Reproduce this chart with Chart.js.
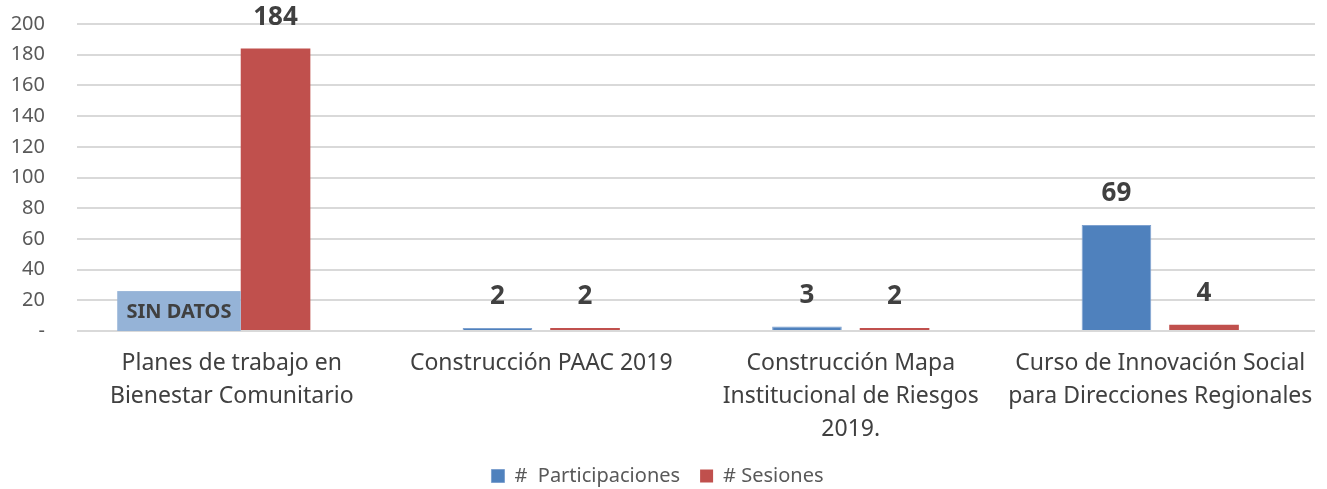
<!DOCTYPE html>
<html>
<head>
<meta charset="utf-8">
<script src="https://cdn.jsdelivr.net/npm/chart.js@4"></script>
<style>
  body { margin: 0; background: #fff; }
  #wrap { width: 1327px; height: 489px; }
</style>
</head>
<body>
<div id="wrap"><canvas id="grafico" width="1327" height="489"></canvas></div>
<script>
// datos del grafico
var categorias = [
  ['Planes de trabajo en', 'Bienestar Comunitario'],
  ['Construcción PAAC 2019'],
  ['Construcción Mapa', 'Institucional de Riesgos', '2019.'],
  ['Curso de Innovación Social', 'para Direcciones Regionales']
];
var participaciones = [null, 2, 3, 69];
var sesiones = [184, 2, 2, 4];
var sinDatosValor = 26; // caja "SIN DATOS" en la primera categoria
var sinDatosTexto = 'SIN DATOS';
var yTicks = [0, 20, 40, 60, 80, 100, 120, 140, 160, 180, 200];

var fuente = "'Noto Sans', 'Open Sans', sans-serif";

// plugin: caja SIN DATOS y etiquetas de valor
var etiquetasPlugin = {
  id: 'etiquetas',
  afterDatasetsDraw: function(chart) {
    var ctx = chart.ctx;
    var y = chart.scales.y;
    var x = chart.scales.x;

    // caja "SIN DATOS" junto a la barra roja
    var rojo = chart.getDatasetMeta(1).data[0];
    var anchoCat = x.getPixelForValue(1) - x.getPixelForValue(0);
    var derecha = rojo.x - rojo.width / 2;
    var izquierda = x.getPixelForValue(0) - anchoCat * 0.37;
    var arriba = y.getPixelForValue(sinDatosValor);
    var abajo = y.getPixelForValue(0);
    ctx.save();
    ctx.fillStyle = '#95b3d7';
    ctx.fillRect(izquierda, arriba, derecha - izquierda, abajo - arriba);
    ctx.fillStyle = '#404040';
    ctx.font = 'bold 20px ' + fuente;
    ctx.textAlign = 'center';
    ctx.textBaseline = 'middle';
    ctx.fillText(sinDatosTexto, (izquierda + derecha) / 2, abajo - 19);

    // valores encima de las barras
    ctx.font = 'bold 26px ' + fuente;
    chart.data.datasets.forEach(function(ds, i) {
      var meta = chart.getDatasetMeta(i);
      meta.data.forEach(function(bar, j) {
        var v = ds.data[j];
        if (v === null || v === undefined) return;
        ctx.fillText(String(v), bar.x, bar.y - 31);
      });
    });
    ctx.restore();
  }
};

var ctx = document.getElementById('grafico').getContext('2d');
var grafico = new Chart(ctx, {
  type: 'bar',
  data: {
    labels: categorias,
    datasets: [{
      label: '#  Participaciones',
      data: participaciones,
      backgroundColor: '#4f81bd',
      borderColor: '#7ea1cf',
      borderWidth: 1,
      categoryPercentage: 0.566,
      barPercentage: 0.795
    }, {
      label: '# Sesiones',
      data: sesiones,
      backgroundColor: '#c0504d',
      borderWidth: 0,
      categoryPercentage: 0.566,
      barPercentage: 0.795
    }]
  },
  options: {
    responsive: false,
    animation: false,
    layout: { padding: { top: 24, right: 12, left: 0, bottom: -7 } },
    plugins: {
      legend: {
        position: 'bottom',
        labels: {
          boxWidth: 13,
          boxHeight: 13,
          padding: 20,
          color: '#595959',
          font: { family: fuente, size: 20 }
        }
      },
      tooltip: { enabled: false }
    },
    scales: {
      x: {
        grid: { display: false },
        border: { display: false },
        ticks: {
          color: '#404040',
          font: { family: fuente, size: 23, lineHeight: 1.43 },
          padding: 8,
          maxRotation: 0,
          autoSkip: false
        },
        afterFit: function(scale) { scale.height = 115; }
      },
      y: {
        min: 0,
        max: 200,
        afterBuildTicks: function(scale) {
          scale.ticks = yTicks.map(function(v) { return { value: v }; });
        },
        grid: { color: '#d9d9d9', lineWidth: 2, drawTicks: false },
        border: { display: false },
        ticks: {
          color: '#595959',
          font: { family: fuente, size: 20 },
          padding: 32,
          callback: function(v) { return v === 0 ? '-' : v; }
        },
        afterFit: function(scale) {
          scale.width = 77;
          scale.paddingTop = 0;
          scale.paddingBottom = 0;
        }
      }
    }
  },
  plugins: [etiquetasPlugin]
});
</script>
</body>
</html>
